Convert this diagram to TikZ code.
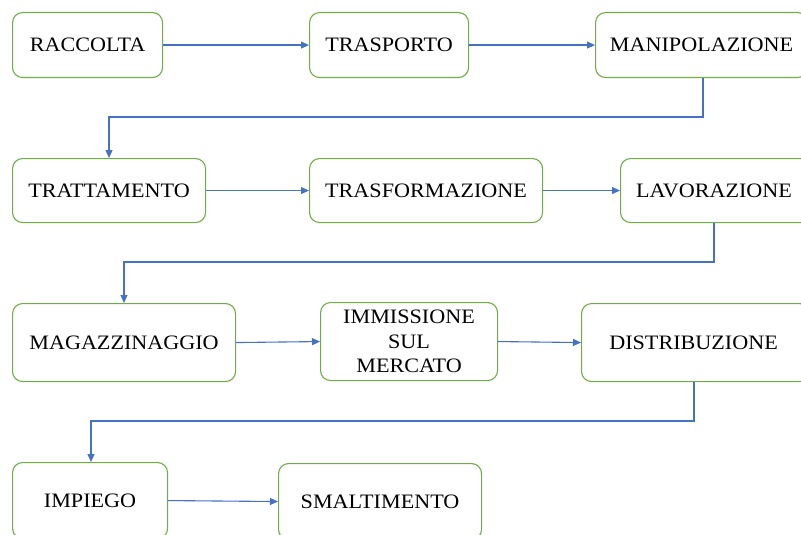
\documentclass[tikz,border=0pt]{standalone}
\usepackage{fontspec}
\setmainfont[FakeStretch=1.08]{Liberation Serif}
\usetikzlibrary{arrows.meta}
\definecolor{boxgreen}{RGB}{112,173,71}
\definecolor{arrowblue}{RGB}{68,114,196}
\begin{document}
\begin{tikzpicture}[x=1pt,y=-1pt,
  stepbox/.style={draw=boxgreen, line width=1.1pt, rounded corners=10pt, inner sep=0pt,
    anchor=north west, align=center, font=\fontsize{20.5}{24.5}\selectfont},
  conn/.style={draw=arrowblue, line width=1.1pt, -{Triangle[length=8pt,width=7pt]}}]
\useasboundingbox (0,0) rectangle (801,535);
\begin{scope}
\clip (0,0) rectangle (801,535);
\node[stepbox, minimum width=150pt, minimum height=65pt] (raccolta) at (12,12) {RACCOLTA};
\node[stepbox, minimum width=159pt, minimum height=65pt] (trasporto) at (309,12) {TRASPORTO};
\node[stepbox, minimum width=212pt, minimum height=65pt] (manipolazione) at (595,12) {MANIPOLAZIONE};
\node[stepbox, minimum width=193pt, minimum height=64pt] (trattamento) at (12,158) {TRATTAMENTO};
\node[stepbox, minimum width=233pt, minimum height=64pt] (trasformazione) at (309,158) {TRASFORMAZIONE};
\node[stepbox, minimum width=190pt, minimum height=64pt] (lavorazione) at (620,158) {\hspace*{-3pt}LAVORAZIONE};
\node[stepbox, minimum width=223pt, minimum height=78pt] (magazzinaggio) at (12,303) {MAGAZZINAGGIO};
\node[stepbox, minimum width=177pt, minimum height=78pt] (immissione) at (320,302) {IMMISSIONE\\SUL\\MERCATO};
\node[stepbox, minimum width=228pt, minimum height=78pt] (distribuzione) at (581,303) {\hspace*{-4pt}DISTRIBUZIONE};
\node[stepbox, minimum width=155pt, minimum height=76pt] (impiego) at (12,462) {IMPIEGO};
\node[stepbox, minimum width=203pt, minimum height=76pt] (smaltimento) at (278,463) {SMALTIMENTO};
\end{scope}
\coordinate (m1) at (703,117);
\coordinate (m2) at (109,117);
\coordinate (l1) at (714,262);
\coordinate (l2) at (124,262);
\coordinate (d1) at (694,421);
\coordinate (d2) at (91,421);
\path[conn] (raccolta.east) -- (trasporto.west);
\path[conn] (trasporto.east) -- (manipolazione.west);
\path[conn] (manipolazione.south -| m1) -- (m1) -- (m2) -- (m2 |- trattamento.north);
\path[conn] (trattamento.east) -- (trasformazione.west);
\path[conn] (trasformazione.east) -- (lavorazione.west);
\path[conn] (lavorazione.south -| l1) -- (l1) -- (l2) -- (l2 |- magazzinaggio.north);
\path[conn] (magazzinaggio.east) -- (immissione.west);
\path[conn] (immissione.east) -- (distribuzione.west);
\path[conn] (distribuzione.south -| d1) -- (d1) -- (d2) -- (d2 |- impiego.north);
\path[conn] (impiego.east) -- (smaltimento.west);
\end{tikzpicture}
\end{document}
